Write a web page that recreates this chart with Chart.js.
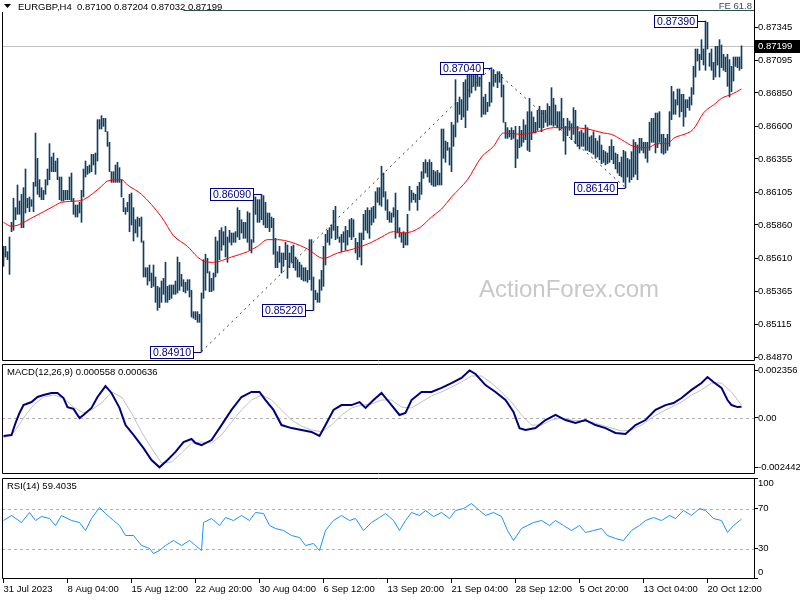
<!DOCTYPE html>
<html>
<head>
<meta charset="utf-8">
<script src="https://cdn.jsdelivr.net/npm/chart.js@4.4.1/dist/chart.umd.min.js"></script>
<style>
  html, body { margin: 0; padding: 0; background: #fff; }
  body { position: relative; width: 800px; height: 600px; overflow: hidden; }
  canvas { position: absolute; left: 0; }
</style>
</head>
<body>
<canvas id="mainChart" width="800" height="361" style="top:0"></canvas>
<canvas id="macdChart" width="800" height="110" style="top:364px"></canvas>
<canvas id="rsiChart" width="800" height="122" style="top:478px"></canvas>
<script>
// EURGBP H4, one entry per bar
const symbol = 'EURGBP,H4';
const lastOHLC = [0.87100, 0.87204, 0.87032, 0.87199];

const highs = [
  0.8570,0.8570,0.8566,0.8577,0.8588,0.8606,0.8599,0.8616,0.8604,0.8609,
  0.8614,0.8628,0.8606,0.8607,0.8605,0.8618,0.8655,0.8636,0.8620,0.8614,
  0.8612,0.8620,0.8628,0.8647,0.8637,0.8640,0.8634,0.8636,0.8622,0.8622,
  0.8612,0.8612,0.8612,0.8622,0.8625,0.8606,0.8601,0.8601,0.8603,0.8612,
  0.8628,0.8634,0.8630,0.8631,0.8639,0.8639,0.8640,0.8665,0.8665,0.8668,
  0.8666,0.8666,0.8656,0.8648,0.8626,0.8626,0.8631,0.8633,0.8629,0.8620,
  0.8606,0.8599,0.8603,0.8609,0.8610,0.8599,0.8590,0.8592,0.8591,0.8592,
  0.8574,0.8554,0.8554,0.8556,0.8550,0.8556,0.8547,0.8540,0.8539,0.8544,
  0.8546,0.8558,0.8540,0.8541,0.8541,0.8541,0.8544,0.8562,0.8558,0.8549,
  0.8545,0.8543,0.8545,0.8545,0.8537,0.8521,0.8521,0.8521,0.8519,0.8535,
  0.8560,0.8564,0.8561,0.8551,0.8546,0.8550,0.8577,0.8574,0.8582,0.8584,
  0.8581,0.8585,0.8577,0.8582,0.8580,0.8580,0.8581,0.8599,0.8597,0.8590,
  0.8588,0.8588,0.8596,0.8595,0.8575,0.8608,0.8607,0.8605,0.8605,0.8609,
  0.8608,0.8603,0.8595,0.8595,0.8592,0.8591,0.8576,0.8566,0.8570,0.8565,
  0.8565,0.8573,0.8571,0.8565,0.8570,0.8571,0.8562,0.8560,0.8558,0.8556,
  0.8554,0.8554,0.8552,0.8575,0.8575,0.8547,0.8537,0.8535,0.8545,0.8552,
  0.8570,0.8579,0.8582,0.8584,0.8586,0.8597,0.8600,0.8585,0.8577,0.8579,
  0.8581,0.8585,0.8582,0.8590,0.8591,0.8590,0.8576,0.8573,0.8580,0.8580,
  0.8594,0.8597,0.8599,0.8597,0.8599,0.8600,0.8611,0.8614,0.8614,0.8630,
  0.8625,0.8611,0.8605,0.8596,0.8595,0.8599,0.8610,0.8597,0.8584,0.8580,
  0.8581,0.8580,0.8594,0.8615,0.8612,0.8610,0.8609,0.8615,0.8618,0.8626,
  0.8633,0.8635,0.8633,0.8635,0.8633,0.8627,0.8626,0.8627,0.8625,0.8658,
  0.8658,0.8649,0.8648,0.8644,0.8663,0.8661,0.8695,0.8678,0.8682,0.8680,
  0.8693,0.8695,0.8700,0.8700,0.8699,0.8702,0.8699,0.8699,0.8697,0.8699,
  0.8682,0.8684,0.8678,0.8693,0.8704,0.8702,0.8699,0.8701,0.8701,0.8699,
  0.8691,0.8663,0.8659,0.8657,0.8659,0.8657,0.8660,0.8650,0.8660,0.8657,
  0.8665,0.8661,0.8671,0.8681,0.8671,0.8667,0.8663,0.8672,0.8675,0.8672,
  0.8672,0.8672,0.8677,0.8675,0.8689,0.8681,0.8676,0.8671,0.8671,0.8681,
  0.8666,0.8660,0.8666,0.8664,0.8662,0.8674,0.8672,0.8660,0.8656,0.8657,
  0.8655,0.8661,0.8659,0.8652,0.8653,0.8656,0.8651,0.8649,0.8653,0.8646,
  0.8642,0.8641,0.8640,0.8645,0.8650,0.8645,0.8640,0.8639,0.8633,0.8637,
  0.8642,0.8641,0.8636,0.8635,0.8641,0.8650,0.8648,0.8646,0.8651,0.8651,
  0.8648,0.8648,0.8648,0.8663,0.8666,0.8666,0.8670,0.8670,0.8671,0.8654,
  0.8654,0.8651,0.8654,0.8671,0.8690,0.8686,0.8680,0.8688,0.8688,0.8684,
  0.8684,0.8680,0.8680,0.8682,0.8689,0.8705,0.8718,0.8718,0.8714,0.8725,
  0.8718,0.8739,0.8738,0.8715,0.8718,0.8708,0.8720,0.8720,0.8725,0.8721,
  0.8714,0.8712,0.8714,0.8710,0.8705,0.8712,0.8712,0.8712,0.8712,0.87204
];
const lows = [
  0.8555,0.8562,0.8560,0.8549,0.8581,0.8582,0.8590,0.8594,0.8594,0.8584,
  0.8584,0.8595,0.8599,0.8596,0.8600,0.8596,0.8615,0.8609,0.8607,0.8605,
  0.8605,0.8609,0.8616,0.8620,0.8626,0.8626,0.8626,0.8620,0.8605,0.8604,
  0.8604,0.8605,0.8605,0.8605,0.8604,0.8594,0.8592,0.8592,0.8595,0.8588,
  0.8607,0.8622,0.8624,0.8625,0.8626,0.8631,0.8624,0.8634,0.8658,0.8658,
  0.8660,0.8656,0.8645,0.8626,0.8618,0.8618,0.8618,0.8618,0.8618,0.8607,
  0.8596,0.8594,0.8596,0.8581,0.8586,0.8574,0.8580,0.8577,0.8585,0.8573,
  0.8547,0.8547,0.8541,0.8544,0.8539,0.8540,0.8528,0.8522,0.8524,0.8528,
  0.8534,0.8528,0.8528,0.8530,0.8531,0.8534,0.8534,0.8535,0.8537,0.8540,
  0.8536,0.8535,0.8537,0.8532,0.8517,0.8516,0.8515,0.8513,0.8513,0.8491,
  0.8531,0.8537,0.8550,0.8536,0.8536,0.8537,0.8547,0.8550,0.8560,0.8567,
  0.8571,0.8562,0.8558,0.8573,0.8571,0.8573,0.8573,0.8577,0.8575,0.8580,
  0.8576,0.8576,0.8573,0.8567,0.8565,0.8573,0.8594,0.8588,0.8588,0.8590,
  0.8586,0.8584,0.8584,0.8581,0.8584,0.8564,0.8554,0.8554,0.8558,0.8550,
  0.8555,0.8560,0.8546,0.8554,0.8558,0.8554,0.8552,0.8547,0.8547,0.8545,
  0.8544,0.8544,0.8543,0.8545,0.8537,0.8522,0.8530,0.8528,0.8528,0.8537,
  0.8540,0.8556,0.8573,0.8571,0.8576,0.8582,0.8575,0.8576,0.8573,0.8566,
  0.8573,0.8567,0.8571,0.8577,0.8575,0.8577,0.8565,0.8560,0.8562,0.8556,
  0.8575,0.8582,0.8580,0.8576,0.8586,0.8588,0.8591,0.8603,0.8601,0.8600,
  0.8607,0.8597,0.8590,0.8588,0.8588,0.8592,0.8576,0.8580,0.8577,0.8573,
  0.8569,0.8571,0.8571,0.8597,0.8603,0.8605,0.8603,0.8597,0.8605,0.8609,
  0.8621,0.8625,0.8622,0.8618,0.8616,0.8615,0.8615,0.8616,0.8616,0.8616,
  0.8636,0.8633,0.8642,0.8631,0.8626,0.8645,0.8652,0.8663,0.8669,0.8665,
  0.8667,0.8659,0.8672,0.8682,0.8685,0.8690,0.8687,0.8690,0.8690,0.8667,
  0.8669,0.8669,0.8671,0.8675,0.8678,0.8690,0.8693,0.8689,0.8693,0.8682,
  0.8663,0.8651,0.8651,0.8652,0.8650,0.8651,0.8629,0.8636,0.8644,0.8645,
  0.8648,0.8650,0.8642,0.8641,0.8650,0.8655,0.8655,0.8657,0.8659,0.8656,
  0.8659,0.8663,0.8660,0.8661,0.8661,0.8660,0.8661,0.8659,0.8657,0.8658,
  0.8649,0.8639,0.8653,0.8657,0.8650,0.8654,0.8647,0.8645,0.8643,0.8645,
  0.8645,0.8642,0.8642,0.8641,0.8640,0.8639,0.8636,0.8637,0.8635,0.8632,
  0.8633,0.8631,0.8632,0.8633,0.8635,0.8632,0.8628,0.8625,0.8623,0.8622,
  0.8618,0.8614,0.8622,0.8618,0.8620,0.8622,0.8624,0.8620,0.8640,0.8642,
  0.8640,0.8636,0.8633,0.8642,0.8648,0.8648,0.8640,0.8644,0.8648,0.8640,
  0.8639,0.8640,0.8642,0.8645,0.8665,0.8669,0.8669,0.8676,0.8667,0.8671,
  0.8660,0.8667,0.8674,0.8672,0.8676,0.8684,0.8697,0.8709,0.8702,0.8710,
  0.8706,0.8702,0.8718,0.8705,0.8702,0.8695,0.8697,0.8706,0.8697,0.8704,
  0.8702,0.8701,0.8690,0.8682,0.8686,0.8694,0.8705,0.8704,0.8702,0.87032
];

// moving average, read at these bars
const maAt = [0,4,15,25,29,37,40,49,52,59,62,69,79,85,92,97,100,105,114,122,127,132,137,144,152,
  160,167,175,184,189,195,200,204,209,214,219,224,232,239,245,250,259,267,275,284,292,300,304,309,
  315,322,327,332,335,342,345,350,352,355,359,364,369];
const maValues = [0.8588,0.8585,0.8592,0.8600,0.8603,0.8604,0.8605,0.8615,0.8619,0.8620,0.8616,0.8609,
  0.8592,0.8578,0.8570,0.8562,0.8559,0.8558,0.8562,0.8566,0.8570,0.8575,0.8575,0.8573,0.8568,0.8561,
  0.8565,0.8568,0.8573,0.8577,0.8581,0.8580,0.8581,0.8585,0.8592,0.8598,0.8607,0.8620,0.8637,0.8645,
  0.8655,0.8654,0.8656,0.8659,0.8659,0.8658,0.8655,0.8654,0.8650,0.8645,0.8644,0.8647,0.8647,0.8651,
  0.8655,0.8658,0.8670,0.8673,0.8676,0.8681,0.8684,0.8688];

// swing labels and fibo expansion anchors
const swingAt = [99, 129, 155, 244, 311, 351];
const swingPrices = [0.84910, 0.86090, 0.85220, 0.87040, 0.86140, 0.87390];
const fiboAt = [99, 244, 311];
const fiboPrices = [0.8491, 0.8704, 0.8614];
const feStartAt = 90;
const feLevel = 0.8747;
const priceTicks = [0.87345, 0.87095, 0.86850, 0.86600, 0.86355, 0.86105, 0.85860, 0.85610, 0.85365, 0.85115, 0.84870];

// MACD(12,26,9)
const macdAt = [0,4,6,8,10,14,17,20,24,27,30,32,35,38,40,44,47,51,54,58,61,65,70,74,78,82,86,90,94,96,
  99,104,109,114,119,124,128,131,135,139,144,149,154,158,161,165,169,174,178,181,185,189,194,198,201,
  204,209,214,219,224,229,233,236,241,246,251,255,258,261,266,271,276,281,286,291,296,301,306,311,316,
  321,326,331,335,339,344,349,352,355,359,362,364,367,369];
const macdMain = [-0.00089,-0.00084,-0.00025,0.00025,0.00064,0.00079,0.00104,0.00114,0.00124,0.00124,
  0.00099,0.00054,0.00045,0.00000,0.00015,0.00050,0.00104,0.00158,0.00124,0.00050,-0.00035,-0.00084,
  -0.00149,-0.00208,-0.002442,-0.00208,-0.00168,-0.00119,-0.00104,-0.00124,-0.00134,-0.00109,-0.00035,
  0.00040,0.00104,0.00129,0.00129,0.00089,0.00040,-0.00035,-0.00050,-0.00059,-0.00069,-0.00089,-0.00035,
  0.00040,0.00064,0.00064,0.00079,0.00050,0.00089,0.00124,0.00064,0.00015,0.00025,0.00089,0.00129,
  0.00129,0.00149,0.00173,0.00198,0.002356,0.00218,0.00163,0.00129,0.00089,0.00030,-0.00050,-0.00059,
  -0.00050,-0.00010,0.00015,-0.00010,-0.00025,-0.00010,-0.00035,-0.00050,-0.00074,-0.00079,-0.00035,
  -0.00010,0.00040,0.00064,0.00074,0.00099,0.00139,0.00173,0.00203,0.00178,0.00149,0.00089,0.00064,
  0.00054,0.000558];
const signalAt = [0,5,10,15,20,25,30,35,40,44,49,54,59,64,69,74,79,84,89,94,99,104,109,114,119,124,129,
  134,139,144,149,154,159,164,169,174,179,184,189,194,199,204,209,214,219,224,229,234,239,244,249,254,
  259,264,269,274,279,284,289,294,299,304,309,314,319,324,329,334,339,344,349,354,359,364,369];
const macdSignal = [-0.00099,-0.00074,0.00000,0.00064,0.00104,0.00114,0.00099,0.00054,0.00025,0.00040,
  0.00074,0.00129,0.00104,0.00025,-0.00069,-0.00149,-0.00223,-0.00218,-0.00173,-0.00124,-0.00119,
  -0.00124,-0.00084,-0.00020,0.00040,0.00089,0.00114,0.00089,0.00040,-0.00010,-0.00040,-0.00059,
  -0.00069,-0.00035,0.00015,0.00050,0.00064,0.00069,0.00089,0.00089,0.00054,0.00050,0.00079,0.00109,
  0.00129,0.00153,0.00178,0.00208,0.00208,0.00173,0.00129,0.00079,0.00015,-0.00035,-0.00035,-0.00010,
  0.00000,-0.00010,-0.00015,-0.00020,-0.00035,-0.00050,-0.00064,-0.00059,-0.00035,0.00000,0.00030,
  0.00054,0.00079,0.00114,0.00139,0.00173,0.00173,0.00129,0.000636];
const macdTicks = [0.002356, 0, -0.002442];
const macdTickLabels = ['0.002356', '0.00', '-0.002442'];

// RSI(14)
const rsiAt = [0,4,9,13,16,19,23,26,29,34,38,41,44,48,51,55,58,61,65,69,73,75,78,81,85,89,93,96,99,100,
  104,108,111,115,119,123,126,130,133,136,140,144,148,151,155,158,161,165,169,173,176,180,184,188,191,
  195,198,201,204,208,211,215,219,223,226,230,234,238,241,245,249,252,255,259,262,265,269,273,276,280,
  284,288,291,295,299,302,306,310,314,318,321,325,329,333,336,340,344,348,351,355,359,362,365,369];
const rsiValues = [58,63,56,66,58,62,60,53,63,58,56,48,60,71,65,58,53,43,43,33,30,25,28,33,38,33,38,33,
  28,56,60,53,61,58,63,58,66,65,53,50,48,43,41,33,35,28,48,58,63,58,60,48,56,61,65,58,48,58,66,63,68,
  62,66,60,68,70,75,68,63,66,62,48,38,50,53,56,58,53,58,53,48,53,46,48,50,43,40,38,48,53,58,61,58,63,
  60,68,63,70,68,60,58,46,53,59.4035];
const rsiTicks = [100, 70, 30, 0];

// time axis
const timeAt = [0, 32, 64, 96, 128, 160, 192, 224, 256, 288, 320, 352];
const timeLabels = ['31 Jul 2023', '8 Aug 04:00', '15 Aug 12:00', '22 Aug 20:00', '30 Aug 04:00', '6 Sep 12:00',
  '13 Sep 20:00', '21 Sep 04:00', '28 Sep 12:00', '5 Oct 20:00', '13 Oct 04:00', '20 Oct 12:00'];

const FONT = '"Liberation Sans", Arial, sans-serif';
const AXIS_PX = 9.5;
const barColor = '#123e5c';
const navy = '#000080';
const X_MIN = -0.75, X_MAX = 375.25;

Chart.defaults.font.family = FONT;
Chart.defaults.font.size = AXIS_PX;
Chart.defaults.color = '#000';

const toPoints = (at, vals) => at.map((x, k) => ({x: x, y: vals[k]}));

function hiddenX() {
  return {type: 'linear', min: X_MIN, max: X_MAX, display: false, offset: false};
}

function rightAxis(min, max, ticks, fmt) {
  return {
    type: 'linear', position: 'right', min: min, max: max,
    afterBuildTicks: s => { s.ticks = ticks.map(v => ({value: v})); },
    afterFit: s => { s.width = 46; s.paddingTop = 0; s.paddingBottom = 0; },
    grid: {drawOnChartArea: false, drawTicks: true, tickLength: 4, color: '#000'},
    border: {display: false},
    ticks: {padding: 0, autoSkip: false, callback: fmt}
  };
}

function baseOptions(scales) {
  return {
    responsive: false, animation: false, events: [],
    layout: {padding: {left: 2, right: 0, top: 0, bottom: 0}, autoPadding: false},
    scales: scales,
    plugins: {legend: {display: false}, tooltip: {enabled: false}}
  };
}

// panel border; the main panel has no top edge and its left edge starts below the header
function framePlugin(openTop) {
  return {
    id: 'frame',
    afterDraw(chart) {
      const {ctx, chartArea: a} = chart;
      const l = a.left + 0.5, r = a.right + 0.5, t = a.top + 0.5, b = a.bottom - 0.5;
      ctx.save();
      ctx.strokeStyle = '#000';
      ctx.lineWidth = 1;
      ctx.beginPath();
      if (openTop) {
        ctx.moveTo(l, 12);
        ctx.lineTo(l, b);
        ctx.lineTo(r, b);
        ctx.lineTo(r, a.top);
      } else {
        ctx.rect(l, t, r - l, b - t);
      }
      ctx.stroke();
      ctx.restore();
    }
  };
}

const mainOverlay = {
  id: 'mainOverlay',
  beforeDatasetsDraw(chart) {
    const {ctx, chartArea: a, scales: {y}} = chart;
    ctx.save();
    ctx.font = '24px ' + FONT;
    ctx.fillStyle = '#c8c8c8';
    ctx.textAlign = 'center';
    ctx.textBaseline = 'middle';
    ctx.fillText('ActionForex.com', 569, 290);

    // bid line
    const py = Math.round(y.getPixelForValue(lastOHLC[3])) + 0.5;
    ctx.strokeStyle = '#c0c0c0';
    ctx.beginPath();
    ctx.moveTo(a.left, py);
    ctx.lineTo(a.right, py);
    ctx.stroke();
    ctx.restore();
  },
  afterDatasetsDraw(chart) {
    const {ctx, chartArea: a, scales: {x, y}} = chart;
    ctx.save();

    // fibo expansion 61.8 level
    const fy = Math.round(y.getPixelForValue(feLevel)) + 0.5;
    ctx.strokeStyle = '#2f4f4f';
    ctx.lineWidth = 1;
    ctx.beginPath();
    ctx.moveTo(x.getPixelForValue(feStartAt), fy);
    ctx.lineTo(a.right, fy);
    ctx.stroke();
    ctx.font = AXIS_PX + 'px ' + FONT;
    ctx.fillStyle = '#2f4f4f';
    ctx.textAlign = 'right';
    ctx.textBaseline = 'alphabetic';
    ctx.fillText('FE 61.8', 752, fy - 2);

    // swing price labels
    ctx.font = '10.5px ' + FONT;
    ctx.textAlign = 'center';
    ctx.textBaseline = 'middle';
    swingAt.forEach((bar, k) => {
      const bx = x.getPixelForValue(bar);
      const by = Math.round(y.getPixelForValue(swingPrices[k])) + 0.5;
      const w = 43, h = 12, right = Math.round(bx - 9) + 0.5;
      ctx.strokeStyle = navy;
      ctx.beginPath();
      ctx.moveTo(right, by);
      ctx.lineTo(bx, by);
      ctx.stroke();
      ctx.fillStyle = '#fff';
      ctx.fillRect(right - w, by - h / 2, w, h);
      ctx.strokeRect(right - w, by - h / 2, w, h);
      ctx.fillStyle = navy;
      ctx.fillText(swingPrices[k].toFixed(5), right - w / 2, by + 0.5);
    });

    // header
    ctx.fillStyle = '#000';
    ctx.beginPath();
    ctx.moveTo(4, 4);
    ctx.lineTo(11, 4);
    ctx.lineTo(7.5, 8);
    ctx.closePath();
    ctx.fill();
    ctx.font = AXIS_PX + 'px ' + FONT;
    ctx.textAlign = 'left';
    ctx.fillText(symbol + '  ' + lastOHLC.map(v => v.toFixed(5)).join(' '), 18, 7);
    ctx.restore();
  },
  afterDraw(chart) {
    const {ctx, scales: {y}} = chart;
    const py = Math.round(y.getPixelForValue(lastOHLC[3]));
    ctx.save();
    ctx.fillStyle = '#000';
    ctx.fillRect(755, py - 6, 45, 13);
    ctx.fillStyle = '#fff';
    ctx.font = AXIS_PX + 'px ' + FONT;
    ctx.textAlign = 'left';
    ctx.textBaseline = 'middle';
    ctx.fillText(lastOHLC[3].toFixed(5), 758, py + 0.5);
    ctx.restore();
  }
};

function dashedLevels(levels, title) {
  return {
    id: 'levels',
    beforeDatasetsDraw(chart) {
      const {ctx, chartArea: a, scales: {y}} = chart;
      ctx.save();
      ctx.strokeStyle = '#b0b0b0';
      ctx.setLineDash([3, 3]);
      levels.forEach(v => {
        const ly = Math.round(y.getPixelForValue(v)) + 0.5;
        ctx.beginPath();
        ctx.moveTo(a.left, ly);
        ctx.lineTo(a.right, ly);
        ctx.stroke();
      });
      ctx.restore();
    },
    afterDraw(chart) {
      const {ctx} = chart;
      ctx.save();
      ctx.fillStyle = '#000';
      ctx.font = AXIS_PX + 'px ' + FONT;
      ctx.textBaseline = 'middle';
      ctx.fillText(title, 7, 8);
      ctx.restore();
    }
  };
}

new Chart(document.getElementById('mainChart'), {
  type: 'bar',
  data: {
    datasets: [
      {type: 'line', data: toPoints(maAt, maValues), borderColor: '#ff0000', borderWidth: 1,
        pointRadius: 0, cubicInterpolationMode: 'monotone', order: 0},
      {type: 'line', data: toPoints(fiboAt, fiboPrices), borderColor: '#3c3c3c', borderWidth: 1,
        borderDash: [2, 4], pointRadius: 0, order: 1},
      {type: 'bar', data: highs.map((h, i) => ({x: i, y: [lows[i], h]})), backgroundColor: barColor,
        borderWidth: 0, barThickness: 1, grouped: false, order: 2}
    ]
  },
  options: baseOptions({
    x: hiddenX(),
    y: rightAxis(0.8484, 0.875475, priceTicks, v => v.toFixed(5))
  }),
  plugins: [framePlugin(true), mainOverlay]
});

new Chart(document.getElementById('macdChart'), {
  type: 'line',
  data: {
    datasets: [
      {data: toPoints(macdAt, macdMain), borderColor: navy, borderWidth: 2, pointRadius: 0, order: 0},
      {data: toPoints(signalAt, macdSignal), borderColor: '#c0c0c0', borderWidth: 1, pointRadius: 0, order: 1}
    ]
  },
  options: baseOptions({
    x: hiddenX(),
    y: rightAxis(-0.002772, 0.002673, macdTicks, (v, i) => macdTickLabels[i])
  }),
  plugins: [framePlugin(false), dashedLevels([0], 'MACD(12,26,9) ' + macdMain[macdMain.length - 1].toFixed(6) + ' ' +
    macdSignal[macdSignal.length - 1].toFixed(6))]
});

const rsiLabels = {
  id: 'rsiLabels',
  afterDraw(chart) {
    const {ctx} = chart;
    ctx.save();
    ctx.fillStyle = '#000';
    ctx.font = AXIS_PX + 'px ' + FONT;
    ctx.textBaseline = 'middle';
    ctx.fillText('100', 758, 5);
    ctx.fillText('0', 758, 94);
    ctx.restore();
  }
};

new Chart(document.getElementById('rsiChart'), {
  type: 'line',
  data: {
    datasets: [
      {data: toPoints(rsiAt, rsiValues), borderColor: '#1e90ff', borderWidth: 1, pointRadius: 0}
    ]
  },
  options: baseOptions({
    x: {
      type: 'linear', min: X_MIN, max: X_MAX, position: 'bottom', offset: false,
      afterBuildTicks: s => { s.ticks = timeAt.map(v => ({value: v})); },
      afterFit: s => { s.height = 21; s.paddingLeft = 0; s.paddingRight = 0; },
      grid: {drawOnChartArea: false, drawTicks: true, tickLength: 4, color: '#000'},
      border: {display: false},
      ticks: {align: 'start', maxRotation: 0, autoSkip: false, padding: 1, callback: (v, i) => timeLabels[i]}
    },
    y: rightAxis(-0.5, 100.5, rsiTicks, v => (v === 0 || v === 100) ? '' : String(v))
  }),
  plugins: [framePlugin(false), dashedLevels([70, 30], 'RSI(14) ' + rsiValues[rsiValues.length - 1].toFixed(4)), rsiLabels]
});
</script>
</body>
</html>
